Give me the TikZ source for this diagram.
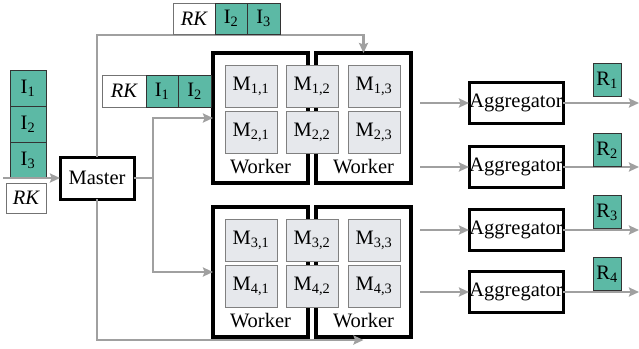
\documentclass[tikz,border=0pt]{standalone}
\usepackage{fontspec}
\setmainfont{Liberation Serif}
\usetikzlibrary{arrows.meta,calc}

\definecolor{tealfill}{HTML}{5CB9A5}
\definecolor{cellfill}{HTML}{E6E8EC}
\definecolor{cellline}{HTML}{808080}
\definecolor{flowgray}{HTML}{A0A0A0}

\tikzset{
  base/.style={inner sep=0pt, outer sep=0pt, font=\fontsize{20.5}{24}\selectfont},
  token/.style={base, draw=black!80, fill=tealfill, line width=0.9pt, minimum height=#1},
  token/.default=36pt,
  keybox/.style={base, draw=black!55, fill=white, line width=0.9pt, font=\fontsize{20.5}{24}\selectfont\itshape},
  master/.style={base, draw=black, line width=3pt, minimum width=74pt, minimum height=42pt},
  worker/.style={base, draw=black, line width=3.5pt, fill=white, minimum width=95pt, minimum height=130pt},
  cell/.style={base, draw=cellline, fill=cellfill, line width=0.9pt, minimum width=52pt, minimum height=42pt},
  aggr/.style={base, draw=black, line width=3pt, minimum width=94pt, minimum height=41pt},
  flow/.style={draw=flowgray, line width=2.5pt},
  flowarrow/.style={flow, -{Stealth[length=10pt,width=9pt,inset=1.5pt]}},
}

\begin{document}
\begin{tikzpicture}[x=1pt,y=-1pt]
\useasboundingbox (0,0) rectangle (639,348);

% ---- input stack ----
\node[token, minimum width=36pt] (i1) at (28,88) {I\textsubscript{1}};
\node[token, minimum width=36pt] (i2) at (28,124) {I\textsubscript{2}};
\node[token, minimum width=36pt] (i3) at (28,160) {I\textsubscript{3}};
\node[keybox, minimum width=40pt, minimum height=30pt] (rk0) at (26,198) {RK};

% ---- master ----
\node[master] (master) at (97,178) {Master};
\coordinate (src) at (3,178);
\draw[flowarrow] (src) -- (master.west);

% ---- workers ----
\node[worker] (w11) at (260.5,118) {};
\node[worker] (w12) at (363.5,118) {};
\node[worker] (w21) at (260.5,272) {};
\node[worker] (w22) at (363.5,272) {};

\foreach \w/\y in {w11/167, w12/167, w21/321, w22/321}
  \node[base] (\w-lbl) at (\w.center |- 0,\y) {Worker};

% ---- model cells ----
\foreach \r/\y in {1/86, 2/132, 3/240, 4/286}
  \foreach \c/\x in {1/251, 2/312, 3/374}
    \node[cell] (m\r\c) at (\x,\y) {M\textsubscript{\r,\c}};

% ---- master to workers ----
\draw[flow] (master.east) -- ++(19,0) coordinate (split);
\draw[flowarrow] (split) |- (w11.west);
\draw[flowarrow] (split) |- (w21.west);
\draw[flowarrow] (master.north) -- (master.north |- 0,35) -| (w12.north);
\draw[flowarrow] (master.south) -- (master.south |- 0,340) -- (w22.south |- 0,340);

% ---- request labels on the flows ----
\node[keybox, minimum width=42pt, minimum height=31pt] (rka) at (194,18.5) {RK};
\node[token=31pt, minimum width=32pt] (ia2) at (231,18.5) {I\textsubscript{2}};
\node[token=31pt, minimum width=33pt] (ia3) at (263.5,18.5) {I\textsubscript{3}};

\node[keybox, minimum width=44pt, minimum height=32pt] (rkb) at (124,91) {RK};
\node[token=32pt, minimum width=32pt] (ib1) at (162,91) {I\textsubscript{1}};
\node[token=32pt, minimum width=33pt] (ib2) at (194.5,91) {I\textsubscript{2}};

% ---- aggregators and results ----
\foreach \k/\y/\ry in {1/103/80, 2/167/150, 3/230/212, 4/292/274}{
  \node[aggr] (agg\k) at (516,\y) {Aggregator};
  \coordinate (ain\k) at (420,\y);
  \coordinate (aout\k) at (639,\y);
  \draw[flowarrow] (ain\k) -- (agg\k.west);
  \draw[flowarrow] (agg\k.east) -- (aout\k);
  \node[token=33pt, minimum width=28pt] (res\k) at (607,\ry) {R\textsubscript{\k}};
}
\end{tikzpicture}
\end{document}
